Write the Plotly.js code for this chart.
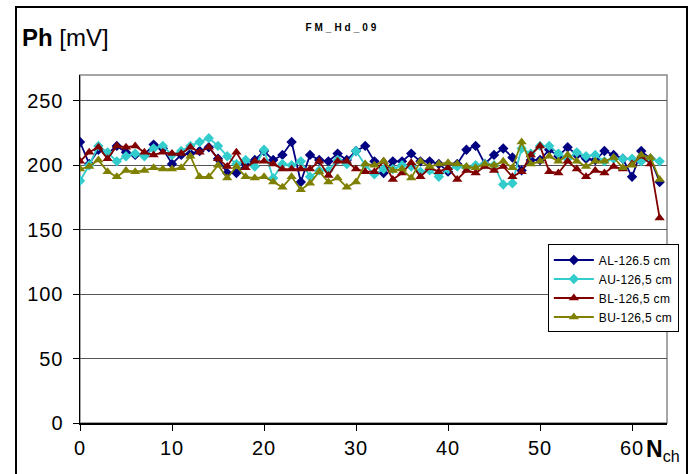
<!DOCTYPE html>
<html>
<head>
<meta charset="utf-8">
<script src="https://cdn.plot.ly/plotly-3.0.1.min.js"></script>
<style>
  html, body { margin: 0; padding: 0; background: #fff; }
  #wrap { position: relative; width: 691px; height: 474px; overflow: hidden; }
  #chart { position: absolute; left: 0; top: 0; width: 691px; height: 474px; }
  #frame { position: absolute; left: 15px; top: 6px; width: 669px; height: 480px; border: 2px solid #000; pointer-events: none; }
  .gtitle { letter-spacing: 3px; }
  .legendtext { letter-spacing: 0.3px; }
  .xtick text, .ytick text { letter-spacing: 1px; }
</style>
</head>
<body>
<div id="wrap">
  <div id="chart"></div>
  <div id="frame"></div>
</div>
<script>
const channels = Array.from({length: 64}, (_, i) => i);

const AL = [218, 201, 212, 209, 215, 210, 208, 208, 216, 213, 201, 208, 209, 211, 214, 205,
            194, 194, 201, 204, 211, 204, 208, 218, 187, 208, 204, 203, 209, 204, 211, 215,
            203, 194, 203, 203, 209, 203, 203, 201, 195, 201, 212, 215, 201, 208, 213, 206,
            196, 204, 204, 212, 207, 214, 208, 205, 204, 211, 208, 205, 191, 211, 205, 187];

const AU = [188, 200, 215, 210, 203, 207, 209, 207, 213, 215, 208, 211, 215, 218, 221, 215,
            207, 201, 204, 199, 212, 190, 201, 200, 203, 191, 196, 196, 204, 201, 211, 200,
            193, 197, 197, 200, 199, 195, 196, 191, 197, 199, 198, 200, 201, 200, 185, 186,
            213, 209, 215, 215, 209, 205, 210, 207, 208, 203, 205, 205, 205, 203, 205, 203];

const BL = [203, 210, 214, 205, 215, 214, 215, 210, 208, 210, 209, 209, 214, 210, 214, 205,
            199, 210, 198, 203, 203, 201, 197, 197, 197, 197, 203, 192, 203, 203, 197, 195,
            195, 203, 189, 194, 202, 191, 198, 195, 198, 189, 196, 194, 199, 196, 199, 191,
            195, 208, 215, 195, 194, 203, 197, 191, 196, 194, 199, 197, 201, 207, 201, 159];

const BU = [197, 199, 204, 195, 191, 196, 195, 196, 198, 197, 197, 198, 207, 191, 191, 200,
            190, 199, 191, 190, 191, 187, 183, 191, 181, 186, 195, 187, 190, 183, 187, 201,
            200, 203, 196, 197, 190, 203, 199, 201, 202, 201, 199, 198, 201, 200, 203, 198,
            218, 201, 203, 207, 203, 208, 203, 199, 203, 203, 206, 198, 200, 208, 206, 189];

const seriesNames = ['AL-126.5 cm', 'AU-126,5 cm', 'BL-126,5 cm', 'BU-126,5 cm'];
const yTicks = [0, 50, 100, 150, 200, 250];
const xTicks = [0, 10, 20, 30, 40, 50, 60];

const FONT = 'Liberation Sans, Arial, sans-serif';

function tr(y, name, color, symbol, size) {
  return {
    x: channels, y: y, name: name, type: 'scatter', mode: 'lines+markers',
    line: {color: color, width: 1.8},
    marker: {color: color, symbol: symbol, size: size, line: {width: 0}}
  };
}

const data = [
  tr(AL, seriesNames[0], '#000080', 'diamond', 8),
  tr(AU, seriesNames[1], '#33CCCC', 'diamond', 8),
  tr(BL, seriesNames[2], '#800000', 'triangle-up', 9),
  tr(BU, seriesNames[3], '#808000', 'triangle-up', 9)
];

const layout = {
  width: 691, height: 474,
  margin: {l: 80, r: 20, t: 75, b: 51},
  paper_bgcolor: 'rgba(0,0,0,0)',
  plot_bgcolor: '#fff',
  font: {family: FONT, color: '#000'},
  title: {
    text: '<b>FM_Hd_09</b>',
    font: {family: FONT, size: 10, color: '#000'},
    x: 0.447, xanchor: 'center', xref: 'paper',
    y: 0.943, yanchor: 'middle', yref: 'container'
  },
  xaxis: {
    range: [0, 63.8],
    tickvals: xTicks,
    ticktext: xTicks.map(String),
    showgrid: false, zeroline: false,
    showline: true, linecolor: '#000', linewidth: 1.5,
    ticks: 'outside', ticklen: 6, tickwidth: 1, tickcolor: '#000',
    tickfont: {family: FONT, size: 20, color: '#000'}
  },
  yaxis: {
    range: [0, 270],
    tickvals: yTicks,
    ticktext: yTicks.map(String),
    showgrid: true, gridcolor: '#555', gridwidth: 1,
    zeroline: false,
    showline: true, linecolor: '#000', linewidth: 1.5,
    ticks: 'outside', ticklen: 6, tickwidth: 1, tickcolor: '#000',
    tickfont: {family: FONT, size: 20, color: '#000'}
  },
  showlegend: true,
  legend: {
    x: 0.797, xanchor: 'left', y: 0.513, yanchor: 'top',
    bgcolor: '#fff', bordercolor: '#000', borderwidth: 1,
    font: {family: FONT, size: 12, color: '#000'},
    tracegroupgap: 0, itemwidth: 40
  },
  shapes: [
    {type: 'rect', xref: 'paper', yref: 'paper', x0: 0, x1: 1, y0: 0, y1: 1,
     line: {color: '#888', width: 1.5}, layer: 'below'}
  ],
  annotations: [
    {text: '<b>Ph</b> [mV]', xref: 'paper', yref: 'paper', x: -0.103, y: 1.108,
     xanchor: 'left', yanchor: 'middle', showarrow: false,
     font: {family: FONT, size: 24, color: '#000'}},
    {text: '<b>N</b><sub>ch</sub>', xref: 'paper', yref: 'paper', x: 0.96, y: -0.08,
     xanchor: 'left', yanchor: 'middle', showarrow: false,
     font: {family: FONT, size: 23, color: '#000'}}
  ]
};

Plotly.newPlot('chart', data, layout, {displayModeBar: false, staticPlot: true}).then(() => {
  document.querySelectorAll('#chart .ytick text').forEach(t => t.setAttribute('dx', '-5'));
});
</script>
</body>
</html>
